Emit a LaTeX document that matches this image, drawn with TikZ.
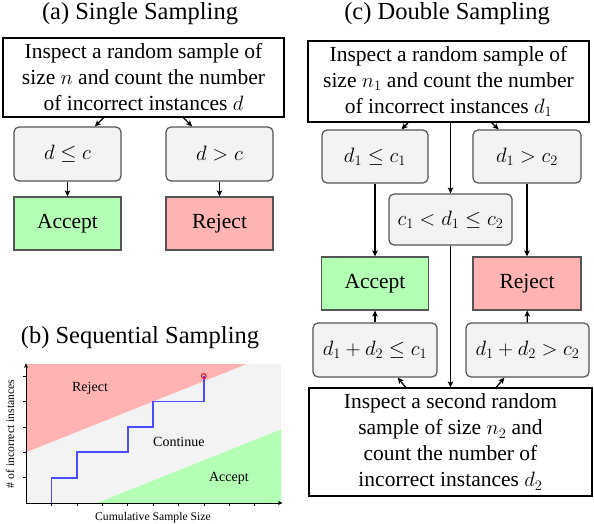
\documentclass[tikz,border=0pt]{standalone}
\usepackage[no-math]{fontspec}
\setmainfont{Liberation Serif}
\usetikzlibrary{arrows.meta}
\definecolor{boxgray}{HTML}{F3F3F3}
\definecolor{accgreen}{HTML}{B3FFB3}
\definecolor{rejred}{HTML}{FFB3B3}
\definecolor{edgegray}{HTML}{555555}
\tikzset{
  bodyfont/.style={font=\fontsize{21.5}{26}\selectfont},
  titlefont/.style={font=\fontsize{24.5}{28}\selectfont},
  infobox/.style={bodyfont, draw=black, line width=1.2pt, fill=white, align=center, inner sep=0pt},
  condbox/.style={bodyfont, draw=edgegray, line width=1.2pt, fill=boxgray, rounded corners=5pt, inner sep=0pt},
  accbox/.style={bodyfont, draw=edgegray, line width=1.2pt, fill=accgreen, inner sep=0pt},
  rejbox/.style={bodyfont, draw=edgegray, line width=1.2pt, fill=rejred, inner sep=0pt},
  arr/.style={-{Stealth[length=6pt,width=5.5pt,inset=1.5pt]}, line width=1.3pt},
  plotlabel/.style={font=\fontsize{14}{16}\selectfont},
  axlabel/.style={font=\fontsize{11.7}{13}\selectfont},
}
\begin{document}
\begin{tikzpicture}[x=1pt,y=-1pt]
\useasboundingbox (0,0) rectangle (594,524);

% ---------- (a) Single Sampling ----------
\node[titlefont] (ta) at (140,14) {(a) Single Sampling};
\node[infobox, minimum width=281pt, minimum height=79pt] (atop) at (143.5,77.5)
  {Inspect a random sample of\\ size $n$ and count the number\\ of incorrect instances $d$};
\node[condbox, minimum width=107pt, minimum height=54pt] (adle) at (67.5,154) {$d\le c$};
\node[condbox, minimum width=107pt, minimum height=54pt] (adgt) at (219.5,154) {$d>c$};
\node[accbox, minimum width=107pt, minimum height=53pt] (aacc) at (67.5,223.5) {Accept};
\node[rejbox, minimum width=107pt, minimum height=53pt] (arej) at (219.5,223.5) {Reject};
\draw[arr] (atop) -- (adle);
\draw[arr] (atop) -- (adgt);
\draw[arr] (adle) -- (aacc);
\draw[arr] (adgt) -- (arej);

% ---------- (c) Double Sampling ----------
\node[titlefont] (tc) at (447,14) {(c) Double Sampling};
\node[infobox, minimum width=281pt, minimum height=81pt] (ctop) at (448.5,81.5)
  {Inspect a random sample of\\ size $n_1$ and count the number\\ of incorrect instances $d_1$};
\node[condbox, minimum width=106pt, minimum height=53pt] (cle) at (375,156.5) {$d_1\le c_1$};
\node[condbox, minimum width=108pt, minimum height=53pt] (cgt) at (527,156.5) {$d_1>c_2$};
\node[condbox, minimum width=123pt, minimum height=51pt] (cmid) at (450.5,219.5) {$c_1<d_1\le c_2$};
\node[accbox, minimum width=107pt, minimum height=53pt] (cacc) at (375,283.5) {Accept};
\node[rejbox, minimum width=108pt, minimum height=53pt] (crej) at (527,283.5) {Reject};
\node[condbox, minimum width=124pt, minimum height=54pt] (cle2) at (375,350) {$d_1+d_2\le c_1$};
\node[condbox, minimum width=123pt, minimum height=54pt] (cgt2) at (527.5,350) {$d_1+d_2>c_2$};
\node[infobox, minimum width=283pt, minimum height=108pt] (cbot) at (450.5,442)
  {Inspect a second random\\ sample of size $n_2$ and\\ count the number of\\ incorrect instances $d_2$};
\draw[arr] (ctop) -- (cle);
\draw[arr] (ctop) -- (cgt);
\draw[arr] (ctop.south -| cmid) -- (cmid.north);
\draw[arr] (cle) -- (cacc);
\draw[arr] (cgt) -- (crej);
\draw[arr] (cmid.south) -- (cbot.north -| cmid);
\draw[arr] (cbot) -- (cle2);
\draw[arr] (cbot) -- (cgt2);
\draw[arr] (cle2) -- (cacc);
\draw[arr] (cgt2) -- (crej);

% ---------- (b) Sequential Sampling ----------
\node[titlefont] (tb) at (140,338) {(b) Sequential Sampling};
\begin{scope}[shift={(26,503)}, x=25.4pt, y=25.4pt]
  \fill[boxgray] (0,0) rectangle (10.05,5.47);
  \fill[rejred] (0,2) -- (8.68,5.47) -- (0,5.47) -- cycle;
  \fill[accgreen] (2.8,0) -- (10.05,2.9) -- (10.05,0) -- cycle;
  \draw[white, dashed, line width=0.4pt] (10.05,0) -- (10.05,5.47);
  \draw[blue!70, line width=1.8pt] (1,0) -- (1,1) -- (2,1) -- (2,2) -- (4,2) -- (4,3) -- (5,3) -- (5,4) -- (7,4) -- (7,5);
  \draw[red, line width=0.9pt] (7,5) circle (2.4pt);
  \foreach \i in {1,...,9} \draw[line width=0.4pt] (\i,0) -- ++(0,-3pt);
  \foreach \j in {1,...,5} \draw[line width=0.4pt] (0,\j) -- ++(-3pt,0);
  \draw[-{Stealth[length=4.5pt,width=4pt,inset=1pt]}, line width=0.8pt] (0,0) -- (10.1,0);
  \draw[-{Stealth[length=4.5pt,width=4pt,inset=1pt]}, line width=0.8pt] (0,0) -- (0,5.5);
  \node[plotlabel] (lrej) at (2.52,4.53) {Reject};
  \node[plotlabel] (lcon) at (6.02,2.40) {Continue};
  \node[plotlabel] (lacc) at (7.99,0.98) {Accept};
\end{scope}
\node[axlabel] (xlab) at (153,518) {Cumulative Sample Size};
\node[axlabel, rotate=90] (ylab) at (10,434) {\# of incorrect instances};
\end{tikzpicture}
\end{document}
